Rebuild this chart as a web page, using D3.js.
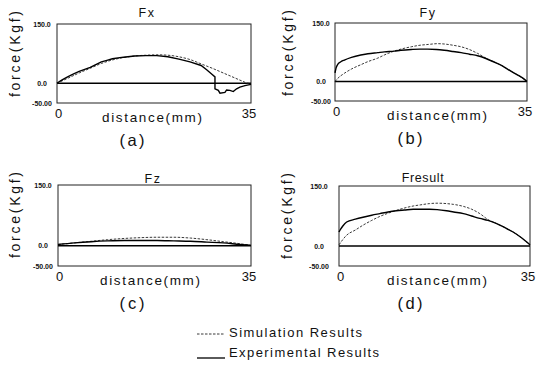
<!DOCTYPE html>
<html><head><meta charset="utf-8">
<script src="https://cdn.jsdelivr.net/npm/d3@7"></script>
<style>
html,body{margin:0;padding:0;background:#fff;}
svg{display:block;font-family:"Liberation Sans",Arial,sans-serif;}
</style></head>
<body>
<svg id="c" width="544" height="366"></svg>
<script>
// ---------- data (distance mm, force Kgf) ----------
const panelTitles = ["Fx", "Fy", "Fz", "Fresult"];
const panelTags = ["(a)", "(b)", "(c)", "(d)"];
const yTickValues = [150, 0, -50];
const yTickLabels = ["150.0", "0.0", "-50.00"];
const xTickValues = [0, 35];
const xTickLabels = ["0", "35"];
const legendLabels = ["Simulation Results", "Experimental Results"];

const fxSim = [[0,0],[2,13],[4,26],[6,38],[8,50],[10,59],[12,65],[14,69],[16,71],[18,72],[20,71],[22,67],[24,60],[26,49],[28,38],[30,26],[32,14],[33.5,5],[34.5,0],[35,0]];
const fxExp = [[0,0],[0.5,5],[1,9],[2,17],[3,24],[4,30],[5,35],[6,40],[7,47],[8,54],[9,58],[10,62],[12,66],[14,69],[16,70],[18,70],[20,67],[22,61],[24,54],[26,45],[27,34],[28,22],[28.5,16],[28.5,-14],[29.1,-18],[29.4,-25],[30.3,-23],[30.6,-17],[31.2,-18],[31.8,-21],[32.4,-14],[33.0,-10],[33.9,-6],[35,-3]];

const fySim = [[0,0],[0.5,8],[1.7,21],[3,32],[4.7,43],[6,51],[7.8,60],[9,68],[10.8,78],[12,83],[13.9,89],[15.5,93],[17,95],[18.7,97],[20,96],[21.5,93],[23,89],[24.5,82],[26,72],[27.5,60],[29,50],[30.5,40],[32,27],[33.5,15],[35,0]];
const fyExp = [[0,22],[0.2,35],[0.5,44],[1,50],[1.7,55],[3,62],[4.7,68],[6,71],[7.8,74],[9,76],[10.8,78],[12,80],[13.9,82],[15.5,83],[16.9,83],[18.5,82],[19.9,80],[21.5,77],[23,74],[24.5,70],[26,66],[27.5,59],[29,50],[30.5,40],[32,27],[33.5,15],[34.5,6],[35,0]];

const fzSim = [[0,3],[3,7],[6,11],[9,15],[12,18],[15,20],[18,21],[21,21],[24,19],[27,15],[30,10],[33,5],[35,1]];
const fzExp = [[0,3],[3,7],[6,10],[9,12],[12,13],[15,13],[18,13],[21,12],[24,11],[27,9],[30,7],[33,3],[35,1]];

const frSim = [[0,3],[1.4,27],[3,40],[4.4,52],[6,64],[7.5,74],[9,82],[10.5,89],[12,95],[13.6,100],[15,103],[16.6,106],[18,107],[19.7,106],[21,104],[22.8,99],[24.3,92],[25.8,81],[27.3,66],[28.9,56],[30.4,46],[31.9,35],[33.5,20],[35,2]];
const frExp = [[0,35],[0.3,42],[0.7,50],[1.4,60],[3,67],[4.4,72],[6,77],[7.5,81],[9,85],[10.5,88],[12,90],[13.6,92],[15,92],[16.6,92],[18,91],[19.7,88],[21,85],[22.8,81],[24.3,75],[25.8,69],[27.3,64],[28.9,56],[30.4,46],[31.9,35],[33.5,20],[35,3]];

const simSeries = [fxSim, fySim, fzSim, frSim];
const expSeries = [fxExp, fyExp, fzExp, frExp];

// ---------- layout ----------
const layout = [
  {x0:57, x1:251, y0:24, y1:103, tickCx:42, yLabX:20, titleX:147, titleY:17, distX:152, tagX:132},
  {x0:335, x1:527, y0:23, y1:101, tickCx:321, yLabX:293, titleX:428, titleY:17, distX:437, tagX:410},
  {x0:58, x1:251, y0:185, y1:266, tickCx:43, yLabX:20, titleX:153, titleY:183, distX:150, tagX:132},
  {x0:339, x1:530, y0:186, y1:266, tickCx:319, yLabX:292, titleX:423, titleY:182, distX:437, tagX:410}
];

const svg = d3.select("#c");
const line = (x, y) => d3.line().x(d => x(d[0])).y(d => y(d[1])).curve(d3.curveMonotoneX);

layout.forEach((L, i) => {
  const x = d3.scaleLinear().domain([0, 35]).range([L.x0, L.x1]);
  const y = d3.scaleLinear().domain([-50, 150]).range([L.y1, L.y0]);
  const g = svg.append("g");

  // frame
  g.append("rect").attr("x", L.x0).attr("y", L.y0)
    .attr("width", L.x1 - L.x0).attr("height", L.y1 - L.y0)
    .attr("fill", "none").attr("stroke", "#222").attr("stroke-width", 1);

  // zero line
  g.append("line").attr("x1", x(0)).attr("x2", x(35)).attr("y1", y(0)).attr("y2", y(0))
    .attr("stroke", "#000").attr("stroke-width", 1.3);

  // y tick labels
  g.selectAll("text.yt").data(yTickValues).enter().append("text")
    .attr("class", "yt")
    .attr("x", L.tickCx).attr("y", d => y(d) + 2.5)
    .attr("text-anchor", "middle").attr("font-size", 7).attr("font-weight", "bold")
    .attr("fill", "#111")
    .text((d, j) => yTickLabels[j]);

  // x tick labels
  g.selectAll("text.xt").data(xTickValues).enter().append("text")
    .attr("class", "xt")
    .attr("x", (d, j) => j === 0 ? x(d) + 1.5 : x(d) - 2)
    .attr("y", L.y1 + 14.5)
    .attr("text-anchor", "middle").attr("font-size", 13).attr("fill", "#111")
    .text((d, j) => xTickLabels[j]);

  // x axis label
  g.append("text").attr("x", L.distX).attr("y", L.y1 + 18.5)
    .attr("text-anchor", "middle").attr("font-size", 13.5).attr("fill", "#111")
    .attr("textLength", 100).attr("lengthAdjust", "spacing")
    .text("distance(mm)");

  // y axis label
  g.append("text")
    .attr("transform", `translate(${L.yLabX},${L.y0 + 30}) rotate(-90)`)
    .attr("text-anchor", "middle").attr("font-size", 14).attr("fill", "#111")
    .attr("textLength", 86).attr("lengthAdjust", "spacing")
    .text("force(Kgf)");

  // title
  g.append("text").attr("x", L.titleX).attr("y", L.titleY)
    .attr("text-anchor", "middle").attr("font-size", 12.5).attr("fill", "#111")
    .attr("letter-spacing", i === 3 ? 0.6 : 1.5)
    .text(panelTitles[i]);

  // tag
  g.append("text").attr("x", L.tagX).attr("y", L.y1 + 43)
    .attr("text-anchor", "middle").attr("font-size", 16.5).attr("fill", "#111")
    .attr("textLength", 25).attr("lengthAdjust", "spacing")
    .text(panelTags[i]);

  // simulation (dashed)
  g.append("path").datum(simSeries[i])
    .attr("d", line(x, y)).attr("fill", "none")
    .attr("stroke", "#222").attr("stroke-width", 0.9)
    .attr("stroke-dasharray", "2.5,1.5");

  // experimental (solid)
  const expCurve = i === 0 ? d3.line().x(d => x(d[0])).y(d => y(d[1])).curve(d3.curveLinear)
                           : line(x, y);
  g.append("path").datum(expSeries[i])
    .attr("d", expCurve).attr("fill", "none")
    .attr("stroke", "#000").attr("stroke-width", 1.4);
});

// ---------- legend ----------
const leg = svg.append("g");
const legY = [334, 358];
const legText = [337, 356.5];
const legLen = [133, 150];
legendLabels.forEach((lab, i) => {
  leg.append("line").attr("x1", 197).attr("x2", 225).attr("y1", legY[i]).attr("y2", legY[i])
    .attr("stroke", i === 0 ? "#222" : "#000")
    .attr("stroke-width", i === 0 ? 0.9 : 1.3)
    .attr("stroke-dasharray", i === 0 ? "2.5,1.5" : null);
  leg.append("text").attr("x", 229).attr("y", legText[i])
    .attr("font-size", 13).attr("fill", "#111")
    .attr("textLength", legLen[i]).attr("lengthAdjust", "spacing")
    .text(lab);
});
</script>
</body></html>
